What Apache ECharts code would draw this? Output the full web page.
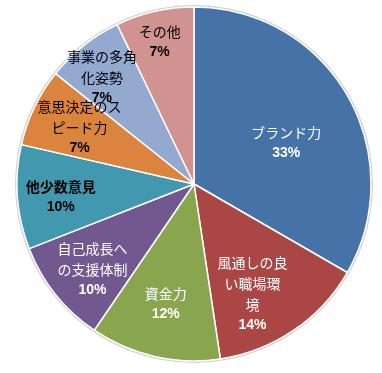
<!DOCTYPE html>
<html><head><meta charset="utf-8">
<script src="https://cdn.jsdelivr.net/npm/echarts@6/dist/echarts.min.js"></script>
<style>html,body{margin:0;padding:0;background:#fff}#c{width:382px;height:373px}</style>
</head><body><div id="c"></div>
<script>
// data
const categories = ['ブランド力','風通しの良い職場環境','資金力','自己成長への支援体制','他少数意見','意思決定のスピード力','事業の多角化姿勢','その他'];
const counts = [14, 6, 5, 4, 4, 3, 3, 3];
const labelTexts = ['ブランド力','風通しの良\nい職場環\n境','資金力','自己成長へ\nの支援体制','他少数意見','意思決定のス\nピード力','事業の多角\n化姿勢','その他'];

// styles
const sliceColors = ['#4572A7','#AA4643','#89A54E','#71588F','#4198AF','#DB843D','#93A9CF','#D19392'];
const textColors = ['#fff','#fff','#fff','#fff','#000','#000','#000','#000'];
const boldNames = [false,false,false,false,true,false,false,false];
const labelOffsets = [[13,4],[7,34],[-8,30],[-30,28],[-42,6],[-32,-17],[-35,-35],[-14,-53]];

const chart = echarts.init(document.getElementById('c'), null, {renderer:'canvas'});
const center = [194, 184];
const option = {
  animation: false,
  series: [
    {
      type: 'pie', silent: true, z: 1,
      center: center, radius: [0, 179],
      label: {show: false}, labelLine: {show: false},
      itemStyle: {color: '#d2d2d2'},
      data: [{value: 1, name: ''}]
    },
    {
      type: 'pie', silent: true, z: 2,
      center: center, radius: [0, 177],
      startAngle: 90, clockwise: true,
      percentPrecision: 0,
      avoidLabelOverlap: false,
      labelLayout: {hideOverlap: false},
      itemStyle: {borderColor: '#ffffff', borderWidth: 1.5},
      labelLine: {show: false},
      label: {
        show: true, position: 'inside',
        formatter: p => '{' + (boldNames[p.dataIndex] ? 'nb' : 'n') + '|' + labelTexts[p.dataIndex] + '}\n{p|' + p.percent + '%}',
        rich: {
          n: {fontFamily: 'Noto Sans CJK JP', fontSize: 14, lineHeight: 21, align: 'center'},
          nb: {fontFamily: 'Noto Sans CJK JP', fontSize: 14, fontWeight: 'bold', lineHeight: 21, align: 'center'},
          p: {fontFamily: 'Liberation Sans', fontSize: 14, fontWeight: 'bold', lineHeight: 20, align: 'center'}
        }
      },
      data: categories.map((c, i) => ({
        name: c, value: counts[i],
        itemStyle: {color: sliceColors[i]},
        label: {color: textColors[i], offset: labelOffsets[i]}
      }))
    }
  ]
};
chart.setOption(option);
</script>
</body></html>
